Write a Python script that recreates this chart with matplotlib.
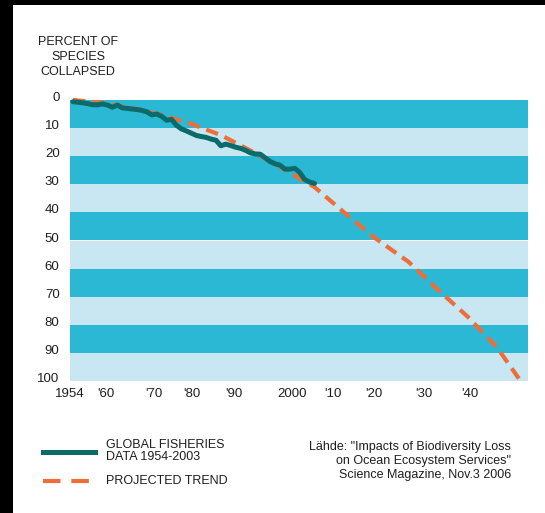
import matplotlib
matplotlib.use("Agg")
import matplotlib.pyplot as plt
from matplotlib.patches import Rectangle
from matplotlib.transforms import ScaledTranslation

plt.rcParams['font.family'] = ['Liberation Sans', 'DejaVu Sans']

# ---- data ----
data_years = list(range(1954, 2004))
data_pct = [0.6, 0.8, 1.0, 1.3, 1.7, 1.7, 1.4, 1.8, 2.6, 1.8,
            2.8, 3.0, 3.2, 3.4, 3.7, 4.2, 5.3, 5.0, 5.8, 7.2,
            6.9, 9.0, 10.3, 11.0, 11.8, 12.6, 13.0, 13.3, 13.9, 14.3,
            16.3, 15.7, 16.2, 16.8, 17.2, 17.9, 18.8, 19.2, 19.3, 20.6,
            21.9, 22.7, 23.2, 24.6, 24.6, 24.3, 25.8, 28.3, 29.2, 29.7]

trend_years = [1954, 1960, 1966, 1972, 1978, 1984, 1990, 1996, 2003,
               2009, 2015, 2022, 2028, 2034, 2040, 2045]
trend_pct = [0.0, 1.0, 2.8, 5.3, 8.5, 12.5, 18.0, 23.8, 31.0,
             40.0, 48.8, 57.5, 67.5, 77.0, 88.0, 100.5]

x_tick_labels = ['1954', "'60", "'70", "'80", "'90", '2000', "'10", "'20", "'30", "'40"]
x_tick_pos = [1953.4, 1960.65, 1970.5, 1978.2, 1986.7, 1998.4, 2006.8, 2015.1, 2025.2, 2034.6]
y_ticks = [0, 10, 20, 30, 40, 50, 60, 70, 80, 90, 100]

# ---- style ----
DARK = '#2bb8d4'
LIGHT = '#c9e7f2'
TEAL = '#0b6b6b'
ORANGE = '#ee6e3a'
TXT = '#1e1e1e'

fig = plt.figure(figsize=(5.45, 5.13), dpi=100)
fig.patch.set_facecolor('white')

ax = fig.add_axes([70/545, 132/513, 458/545, 281/513])
ax.set_xlim(1954, 2046.3)
ax.set_ylim(100, 0)

for i, lo in enumerate(y_ticks[:-1]):
    ax.axhspan(lo, lo + 10, color=DARK if i % 2 == 0 else LIGHT, lw=0, zorder=0)

ax.plot(trend_years, trend_pct, color=ORANGE, lw=3.0, dashes=(3.0, 1.7),
        clip_on=False, zorder=3, solid_capstyle='butt', dash_capstyle='butt')
ax.plot(data_years, data_pct, color=TEAL, lw=3.6, clip_on=False, zorder=4,
        solid_joinstyle='round', solid_capstyle='round')

for s in ax.spines.values():
    s.set_visible(False)

ax.set_yticks(y_ticks)
ax.set_yticklabels([str(v) for v in y_ticks])
ax.set_xticks(x_tick_pos)
ax.set_xticklabels(x_tick_labels)
ax.tick_params(axis='both', length=0, labelsize=9.5, labelcolor=TXT)
ax.tick_params(axis='y', pad=7.5)
ax.tick_params(axis='x', pad=5)
for lab in ax.get_yticklabels():
    lab.set_transform(lab.get_transform() + ScaledTranslation(0, 3.5/100, fig.dpi_scale_trans))

# y axis title
fig.text(78/545, 1 - 57/513, 'PERCENT OF\nSPECIES\nCOLLAPSED', ha='center', va='center',
         fontsize=9, color=TXT, linespacing=1.33)

# legend
fig.add_artist(plt.Line2D([43/545, 95/545], [1 - 452/513, 1 - 452/513], color=TEAL, lw=3.6))
fig.add_artist(plt.Line2D([43/545, 95/545], [1 - 481/513, 1 - 481/513], color=ORANGE, lw=3.0,
                          dashes=(4.2, 2.6)))
fig.text(106/545, 1 - 451/513, 'GLOBAL FISHERIES\nDATA 1954-2003', ha='left', va='center',
         fontsize=9, color=TXT, linespacing=0.9)
fig.text(106/545, 1 - 481/513, 'PROJECTED TREND', ha='left', va='center',
         fontsize=9, color=TXT)

fig.text(511/545, 1 - 461/513,
         'Lähde: "Impacts of Biodiversity Loss\non Ocean Ecosystem Services"\nScience Magazine, Nov.3 2006',
         ha='right', va='center', fontsize=9, color=TXT, linespacing=1.25)

# black border strips
fig.add_artist(Rectangle((0, 0), 13/545, 1, transform=fig.transFigure, color='black', lw=0))
fig.add_artist(Rectangle((0, 1 - 4.5/513), 1, 4.5/513, transform=fig.transFigure, color='black', lw=0))

fig.savefig('out.png', dpi=100, facecolor='white')
